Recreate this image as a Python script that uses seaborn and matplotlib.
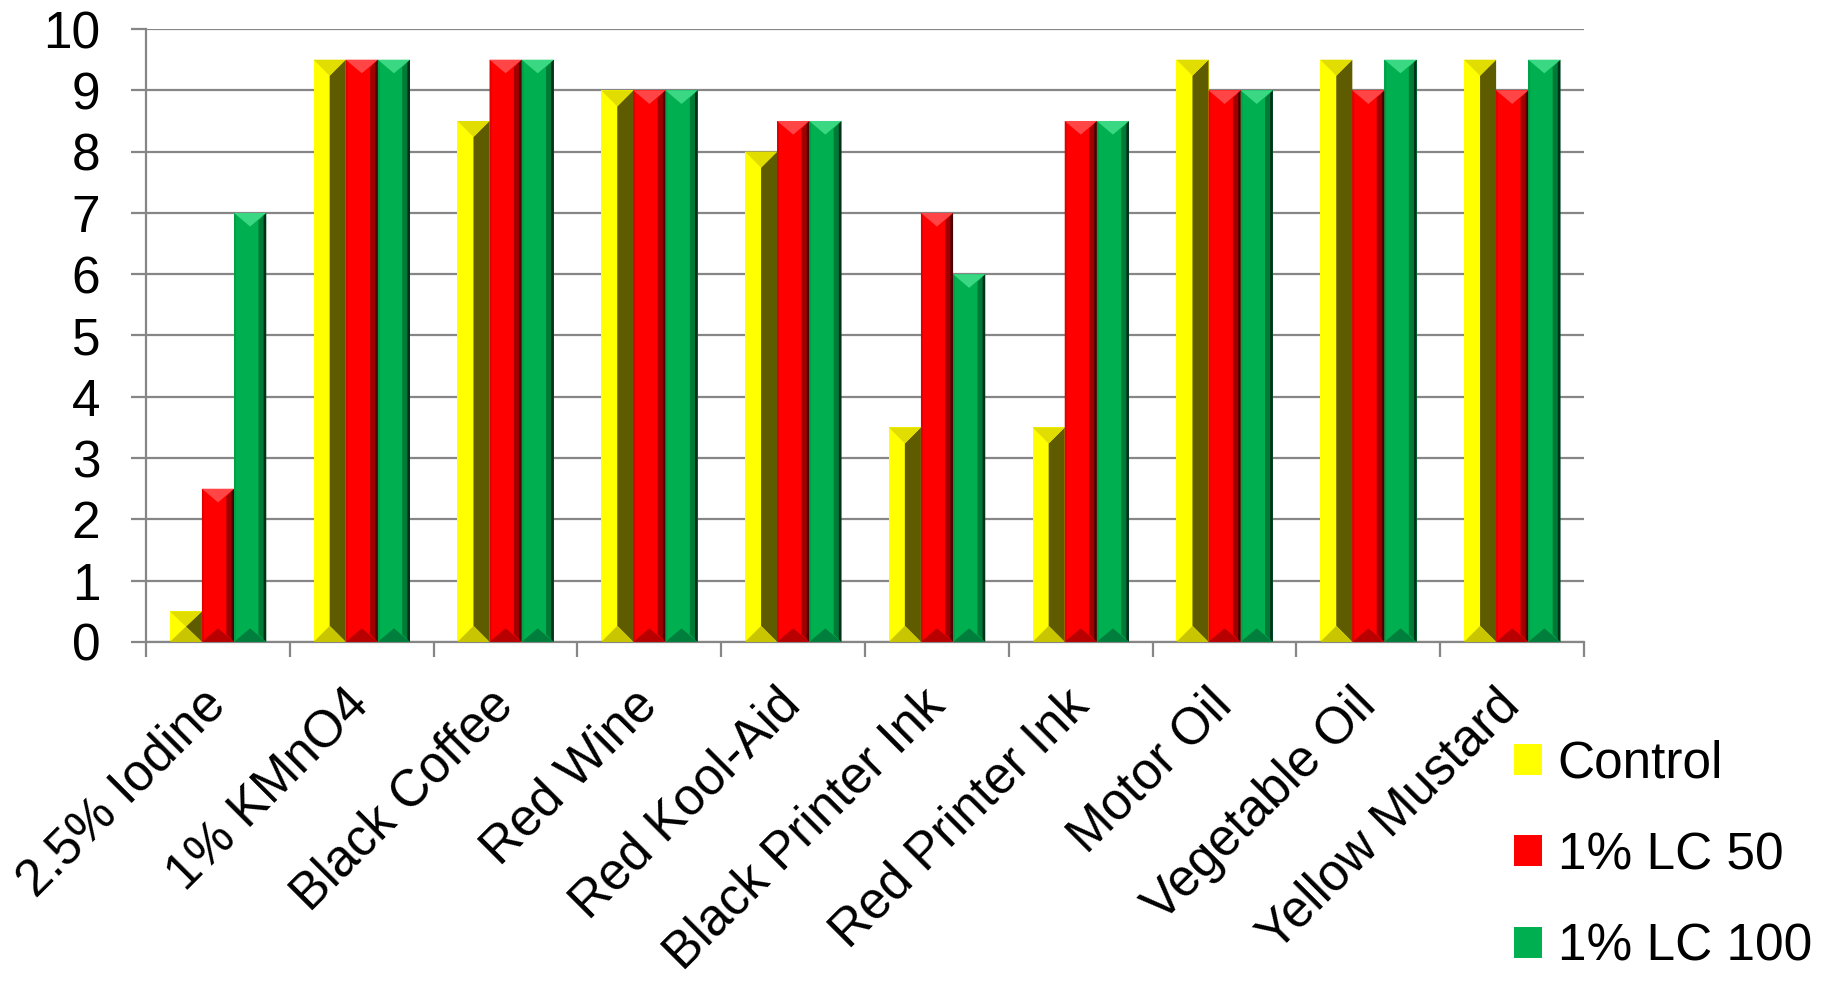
import numpy as np
import pandas as pd
import matplotlib
matplotlib.use("Agg")
import matplotlib.pyplot as plt
import seaborn as sns
from matplotlib.patches import Polygon

# 数据
categories = ["2.5% Iodine", "1% KMnO4", "Black Coffee", "Red Wine", "Red Kool-Aid",
              "Black Printer Ink", "Red Printer Ink", "Motor Oil", "Vegetable Oil",
              "Yellow Mustard"]
series = ["Control", "1% LC 50", "1% LC 100"]
control = [0.5, 9.5, 8.5, 9.0, 8.0, 3.5, 3.5, 9.5, 9.5, 9.5]
lc50 = [2.5, 9.5, 9.5, 9.0, 8.5, 7.0, 8.5, 9.0, 9.0, 9.0]
lc100 = [7.0, 9.5, 9.5, 9.0, 8.5, 6.0, 8.5, 9.0, 9.5, 9.5]
colors = ["#FFFF00", "#FF0000", "#00B050"]

df = pd.DataFrame({
    "category": categories * 3,
    "value": control + lc50 + lc100,
    "series": [s for s in series for _ in categories],
})

sns.set_style("white")
plt.rcParams["font.family"] = ["Liberation Sans", "DejaVu Sans"]
plt.rcParams["text.color"] = "black"
plt.rcParams["xtick.labelcolor"] = "black"
plt.rcParams["ytick.labelcolor"] = "black"

fig = plt.figure(figsize=(18.33, 9.84), dpi=100)
ax = fig.add_axes([0.0797, 0.3476, 0.7845, 0.6229])

sns.barplot(data=df, x="category", y="value", hue="series", palette=colors,
            width=0.67, gap=0, saturation=1, linewidth=0, ax=ax, zorder=2)

ax.set_ylim(0, 10)
ax.set_xlim(-0.5, len(categories) - 0.5)
ax.set_yticks(range(0, 11))
ax.set_xlabel("")
ax.set_ylabel("")

# 网格和坐标轴
ax.yaxis.grid(True, color="#868686", linewidth=1.6, zorder=0)
ax.set_axisbelow(True)
for s in ["top", "right"]:
    ax.spines[s].set_visible(False)
for s in ["left", "bottom"]:
    ax.spines[s].set_color("#868686")
    ax.spines[s].set_linewidth(1.6)
ax.tick_params(axis="y", direction="out", length=11, width=1.6, color="#868686",
               labelsize=37, pad=22, left=True)
ax.set_xticks(np.arange(len(categories)))
ax.set_xticks(np.arange(-0.5, len(categories)), minor=True)
ax.tick_params(axis="x", which="major", length=0, labelsize=37, pad=40)
ax.tick_params(axis="x", which="minor", direction="out", length=11, width=1.6,
               color="#868686", bottom=True)
plt.setp(ax.get_xticklabels(), rotation=45, ha="right", va="center",
         rotation_mode="anchor")

# 斜面效果
styles = [
    dict(right="#5E5B00", top="#E2DD00", bottom="#C9C500", left=None, edge=None,
         rfrac=0.5, tfrac=1.0),
    dict(right="#A00000", top="#FF4545", bottom="#B80000", left="#E00000", edge="#4A0000",
         rfrac=0.24, tfrac=0.85),
    dict(right="#007A37", top="#3AD882", bottom="#007E3C", left="#00A048", edge="#00301A",
         rfrac=0.24, tfrac=0.85),
]
fig.canvas.draw()
inv = ax.transData.inverted()


def add_poly(pts, color):
    data_pts = inv.transform(np.array(pts))
    ax.add_patch(Polygon(data_pts, closed=True, facecolor=color, edgecolor="none",
                         zorder=3))


for cont, st in zip(ax.containers, styles):
    for bar in cont:
        x, y = bar.get_x(), bar.get_y()
        w, h = bar.get_width(), bar.get_height()
        (L, B), (R, T) = ax.transData.transform([(x, y), (x + w, y + h)])
        pw = R - L
        C = (L + R) / 2
        d = min(pw / 2 * st["tfrac"], (T - B) / 2)
        r = min(pw * st["rfrac"], pw / 2)
        rd = min(r, (T - B) / 2)
        add_poly([(R, B), (R, T), (R - r, T - rd), (R - r, B + rd)], st["right"])
        if st["edge"]:
            e = pw * 0.08
            add_poly([(R, B), (R, T), (R - e, T - e), (R - e, B + e)], st["edge"])
        if st["left"]:
            e = pw * 0.06
            add_poly([(L, B), (L, T), (L + e, T - e), (L + e, B + e)], st["left"])
        add_poly([(L, T), (R, T), (C, T - d)], st["top"])
        add_poly([(L, B), (R, B), (C, B + d)], st["bottom"])

# 图例
handles, labels = ax.get_legend_handles_labels()
ax.legend(handles, labels, loc="upper left", bbox_to_anchor=(0.826, 0.248),
          bbox_transform=fig.transFigure, frameon=False, fontsize=37,
          handlelength=0.55, handleheight=0.55, handletextpad=0.3,
          labelspacing=0.82, borderpad=0, borderaxespad=0)

plt.savefig("out.png", dpi=100)
